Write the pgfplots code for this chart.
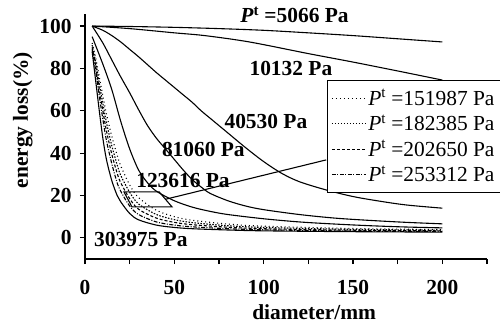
\documentclass[border=0pt]{standalone}
\usepackage{fontspec}
\setmainfont{Liberation Serif}
\usepackage{pgfplots}
\pgfplotsset{compat=1.18}
\newcommand{\ff}{\fontsize{21.5}{24}\selectfont}
\begin{document}
\begin{tikzpicture}
\path[use as bounding box] (-85bp,-66bp) rectangle (415bp,259bp);
\begin{axis}[
  scale only axis, width=402bp, height=245bp,
  xmin=0, xmax=225, ymin=-10, ymax=105.7,
  axis lines=left, axis line style={-, line width=1.2pt},
  xtick={0,50,100,150,200}, minor xtick={25,75,125,175,225},
  ytick={0,20,40,60,80,100},
  tick align=outside, major tick length=5bp, minor tick length=5bp,
  tick style={line width=1.2pt, black},
  every tick label/.append style={font=\ff\bfseries},
  xticklabel style={yshift=-13bp},
  yticklabel style={xshift=-5bp},
  /pgf/number format/assume math mode=true,
  xlabel={diameter/mm},
  xlabel style={at={(axis description cs:0.57,-0.215)}, anchor=center, font=\ff\bfseries},
  ylabel={energy loss(\%)},
  ylabel style={at={(axis description cs:-0.155,0.567)}, anchor=center, font=\ff\bfseries},
  clip=false,
  legend cell align=left,
  legend style={at={(0.602,0.731)}, anchor=north west, draw=black, line width=1pt, fill=white, font=\ff, inner xsep=4bp, inner ysep=7bp, row sep=4bp},
  legend image code/.code={\draw[#1, line width=0.8pt] (0cm,0cm) -- (1.2cm,0cm);},
]
% solid labelled curves
\addplot[black, line width=1.1pt, smooth, forget plot] coordinates {(4,100)(25,99.8)(50,99.4)(75,98.8)(100,98)(125,96.8)(150,95.5)(175,94)(200,92.5)};
\addplot[black, line width=1.1pt, smooth, forget plot] coordinates {(4,100)(25,98.8)(50,96.8)(67,95.5)(92,92.5)(125,87)(150,83)(175,78.8)(200,74.5)};
\addplot[black, line width=1.1pt, smooth, forget plot] coordinates {(4,100)(10,98)(15,95.5)(20,92.5)(25,89)(30,85.5)(36,81)(40,78)(45,74.5)(50,71)(55,67.5)(60,64)(65,60)(70,56.5)(75,53)(80,49.5)(90,42.5)(100,36)(110,30.5)(120,26.5)(135,22.6)(150,19.5)(165,17.3)(180,15.5)(200,14)};
\addplot[black, line width=1.1pt, smooth, forget plot] coordinates {(4,100)(10,92)(15,84)(20,76)(25,68.5)(30,60.5)(35,53)(40,47)(45,42)(50,37)(55,32)(60,27.5)(65,24)(70,21)(80,17.5)(90,15)(100,13.3)(120,11)(140,9.3)(160,8.2)(180,7.3)(200,6.6)};
\addplot[black, line width=1.1pt, smooth, forget plot] coordinates {(4,95)(10,82)(15,70)(20,55)(25,42)(30,32)(35,26)(40,22)(50,17.5)(60,14.5)(70,12.5)(80,11)(100,9)(120,7.5)(140,6.5)(160,5.7)(180,5.1)(200,4.7)};
\addplot[black, line width=1.1pt, smooth, forget plot] coordinates {(4,88)(6,74)(8,60)(10,47)(12,37)(15,27)(18,20)(20,17)(25,11.5)(30,8.5)(40,6)(50,4.9)(60,4.3)(80,3.7)(100,3.3)(150,2.9)(200,2.7)};
% legend curves
\addplot[black, line width=1.1pt, smooth, dash pattern=on 1pt off 3pt] coordinates {(4,92)(6,85)(8,76)(10,67)(12,58.5)(15,48)(18,39)(20,34)(25,25)(30,19)(40,13)(50,10)(60,8.3)(80,6.5)(100,5.5)(150,4.4)(200,3.9)};
\addlegendentry{\textit{P}\textsuperscript{t} =151987 Pa}
\addplot[black, line width=1.1pt, smooth, dash pattern=on 1.5pt off 1.5pt] coordinates {(4,91)(6,83)(8,73)(10,63.5)(12,54.5)(15,43.5)(18,34.5)(20,29.5)(25,21.5)(30,16)(40,11)(50,8.6)(60,7.2)(80,5.7)(100,4.9)(150,4.0)(200,3.6)};
\addlegendentry{\textit{P}\textsuperscript{t} =182385 Pa}
\addplot[black, line width=1.1pt, smooth, dash pattern=on 3pt off 2pt] coordinates {(4,90)(6,81)(8,70)(10,60)(12,50.5)(15,39.5)(18,30.5)(20,26)(25,18.5)(30,13.5)(40,9.3)(50,7.3)(60,6.2)(80,5)(100,4.3)(150,3.6)(200,3.3)};
\addlegendentry{\textit{P}\textsuperscript{t} =202650 Pa}
\addplot[black, line width=1.1pt, smooth, dash pattern=on 4pt off 1.5pt on 1pt off 1.5pt] coordinates {(4,89)(6,79)(8,67)(10,56)(12,46)(15,35)(18,26)(20,22)(25,15)(30,11)(40,7.5)(50,6)(60,5.2)(80,4.3)(100,3.8)(150,3.2)(200,3.0)};
\addlegendentry{\textit{P}\textsuperscript{t} =253312 Pa}
% annotation
\draw[line width=1.1pt] (axis cs:21.8,21.7) -- (axis cs:41.5,21.7) -- (axis cs:48.7,14.6) -- (axis cs:26.3,14.6) -- cycle;
\draw[line width=1.1pt] (axis cs:45,18.2) -- (axis cs:135,36.8);
% labels
\node[anchor=west, font=\ff\bfseries] at (axis cs:85,105.2) {\textit{P}\textsuperscript{t} =5066 Pa};
\node[anchor=west, font=\ff\bfseries, inner sep=0pt] at (axis cs:92,80) {10132 Pa};
\node[anchor=west, font=\ff\bfseries, inner sep=0pt] at (axis cs:78,55) {40530 Pa};
\node[anchor=west, font=\ff\bfseries, inner sep=0pt] at (axis cs:43,41.5) {81060 Pa};
\node[anchor=west, font=\ff\bfseries, inner sep=0pt] at (axis cs:28.6,27) {123616 Pa};
\node[anchor=west, font=\ff\bfseries, inner sep=0pt] at (axis cs:5,-1) {303975 Pa};
\end{axis}
\end{tikzpicture}
\end{document}
